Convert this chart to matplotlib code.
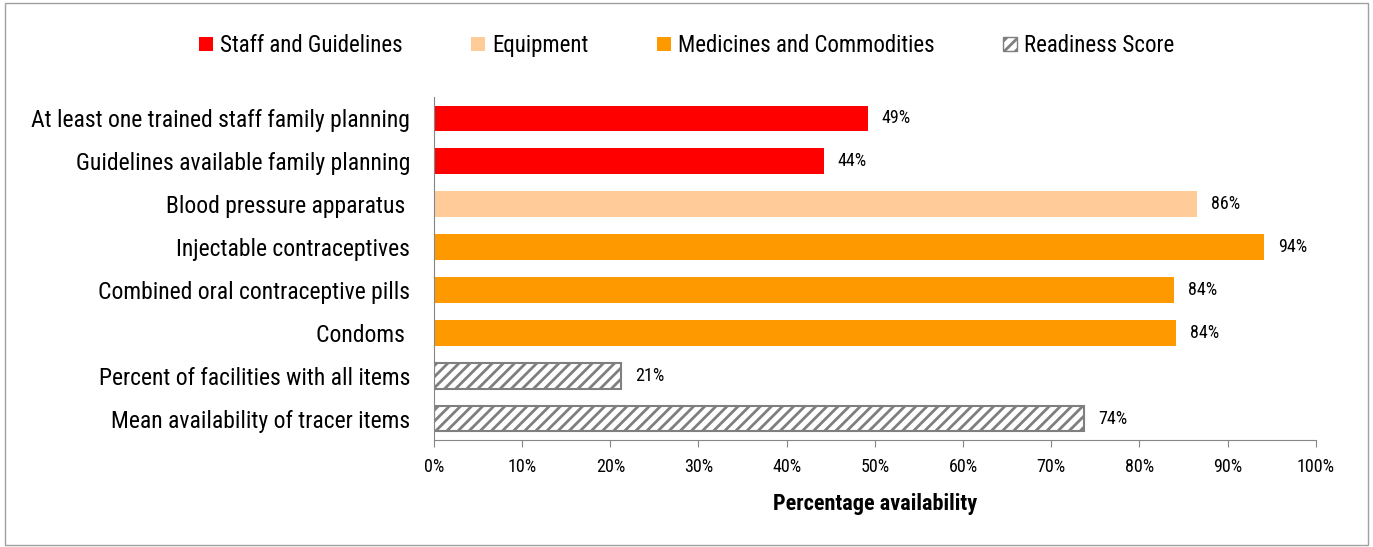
import numpy as np
import matplotlib.pyplot as plt
from matplotlib.patches import Patch

labels = ["At least one trained staff family planning",
          "Guidelines available family planning",
          "Blood pressure apparatus ",
          "Injectable contraceptives",
          "Combined oral contraceptive pills",
          "Condoms ",
          "Percent of facilities with all items",
          "Mean availability of tracer items"]
values = [49.2, 44.2, 86.5, 94.1, 83.9, 84.1, 21.2, 73.7]
groups = ["staff", "staff", "equip", "med", "med", "med", "ready", "ready"]
value_text = ["49%", "44%", "86%", "94%", "84%", "84%", "21%", "74%"]

colors = {"staff": "#ff0000", "equip": "#ffcc99", "med": "#ff9900", "ready": "white"}
names = {"staff": "Staff and Guidelines", "equip": "Equipment",
         "med": "Medicines and Commodities", "ready": "Readiness Score"}

plt.rcParams['font.family'] = ['Roboto Condensed', 'DejaVu Sans']
plt.rcParams['hatch.color'] = '#7f7f7f'
plt.rcParams['hatch.linewidth'] = 2.0

fig = plt.figure(figsize=(13.73, 5.47), dpi=100)
ax = fig.add_axes([0.316, 0.1956, 0.6424, 0.6271])

y = np.arange(len(labels))
for i in range(len(labels)):
    g = groups[i]
    if g == "ready":
        ax.barh(y[i], values[i], height=0.6, color='white', edgecolor='#7f7f7f',
                hatch='///', linewidth=1.5)
    else:
        ax.barh(y[i], values[i], height=0.6, color=colors[g])
    ax.text(values[i] + 1.6, y[i], value_text[i], va='center', ha='left', fontsize=13)

ax.set_ylim(len(labels) - 0.5, -0.5)
ax.set_xlim(0, 100)
ax.set_xticks(np.arange(0, 101, 10))
ax.set_xticklabels([f"{v}%" for v in range(0, 101, 10)], fontsize=13)
ax.set_yticks(y)
ax.set_yticklabels(labels, fontsize=17)
ax.tick_params(axis='y', length=0, pad=17)
ax.tick_params(axis='x', length=5, color='#868686', pad=8)
for s in ['top', 'right']:
    ax.spines[s].set_visible(False)
ax.spines['left'].set_color('#868686')
ax.spines['bottom'].set_color('#868686')
ax.set_xlabel("Percentage availability", fontsize=16, fontweight='bold', labelpad=12)

handles = [Patch(facecolor=colors[k], label=names[k]) for k in ["staff", "equip", "med"]]
handles.append(Patch(facecolor='white', edgecolor='#7f7f7f', hatch='///', label=names["ready"]))
fig.legend(handles=handles, loc='upper center', bbox_to_anchor=(0.5, 0.975), ncol=4,
           frameon=False, fontsize=16.5, handlelength=0.6, handleheight=0.6,
           handletextpad=0.3, columnspacing=3.0)

# outer border of the chart area
fig.patches.append(plt.Rectangle((0.004, 0.004), 0.992, 0.99, transform=fig.transFigure,
                                 fill=False, edgecolor='#a0a0a0', linewidth=1))

fig.savefig("out.png", dpi=100)
